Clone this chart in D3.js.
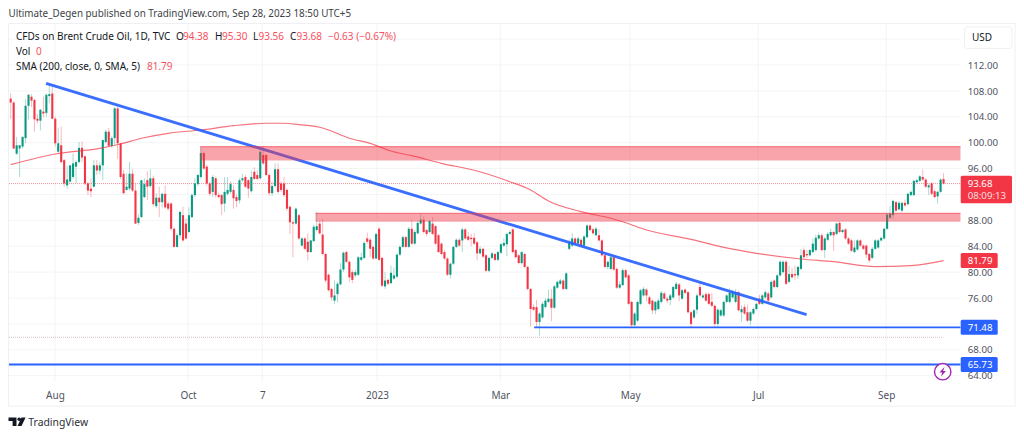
<!DOCTYPE html>
<html>
<head>
<meta charset="utf-8">
<script src="https://cdn.jsdelivr.net/npm/d3@7"></script>
<style>
html, body { margin: 0; padding: 0; background: #fff; overflow: hidden; }
text { font-family: "Noto Sans", sans-serif; }
.axis path, .axis line { display: none; }
</style>
</head>
<body>
<svg id="chart" width="1024" height="437"></svg>
<script>
// candles, oldest first
var opens = [106.8,106.2,98.3,99.1,99.4,100.7,105.7,107.1,106.6,103.7,103.4,104.8,104.6,107.2,107.6,103.7,98.6,99.6,97.3,93.4,
94,94.7,96.3,97,99.2,97.9,93.7,92.9,93.2,96.5,95.7,96.5,100.1,101.7,99.5,100.7,105.3,99.9,95.2,92.7,
92.9,95.2,92.6,87.6,88.5,91.6,94.2,93.3,94.5,90.2,91.5,90.8,92.1,90.6,90.6,86.7,83.9,85.7,88.8,87.5,
86.2,88.5,91.9,93.6,94.7,98.4,96.3,93.7,92.4,94.5,91.9,91.9,90.6,92.1,92.4,92.7,91.6,91.1,94.2,94.7,
94.2,92.5,95.5,95,94.5,98.1,98.1,95,92.2,93.3,95.9,93.7,93.7,92.7,90.1,87.7,87.5,88.8,84.1,85.2,
84.7,83.1,84.8,86.5,87.5,85.8,82.8,79.6,77.4,75.6,76.6,78.1,80.4,83.1,81.6,80,79.5,79.6,81.9,82.2,
85.2,85,83.9,82.1,86.7,82.2,77.8,78.8,78.3,79,79.3,82.7,83.9,85.4,83.9,86.7,84.4,86,87.5,88.1,
86.5,86.2,87.5,87.1,85.7,84.4,83.1,82.1,79.6,81.3,83.9,85,84.9,86.6,85.5,85.3,85.3,84.6,82.9,83.6,
82.6,80.2,82.2,82.8,81.9,83,84.1,84.3,85.9,86.6,83.4,82.6,81.4,82.8,80.8,77.4,74.6,74.6,72.3,73,
74.6,75.4,75.9,74.5,77.6,78.2,78.7,77.4,83.6,84.1,85.2,84.4,85,84.1,85.4,87.2,86.6,85.7,85.7,84.9,
82.6,80.8,80.5,82.3,80.5,77.6,78,80.3,79.5,75.4,71.8,72.5,75.1,76.4,77.3,76.1,75.6,74.1,74.3,75.4,
76.7,75.9,75.7,76.1,77.4,78.1,75.9,77.3,76.9,73.8,73,74.2,77.7,76.1,76.6,76.6,75.4,74.8,72,73.3,
73.3,75.4,75.4,76.1,75.4,76.9,73.8,74.6,73.8,72.5,73.6,74.3,75.9,75.1,76.1,76.7,76.1,78.7,77.7,79.5,
80,81.6,78.5,79.7,79.7,79.5,80.5,83.4,82.8,82.6,83.1,83.4,85.2,85.7,83.4,85,85.7,86.2,85.9,87.6,
86.2,86.6,85.2,84.9,83.1,83.5,84.9,84.1,84.1,82.8,82.2,83.6,83.8,84.9,85.2,86.7,88.4,88.8,90.8,89.7,
89.5,90.7,90.5,91.9,91.9,93.9,94.1,94.7,94.3,93.1,93.7,92.5,91.7,92.4,94.38];
var highs = [107.6,106.4,100.9,99.6,100.9,106.7,107.5,107.5,106.8,104.4,105.1,107.1,107.6,108.9,108.9,104,102.3,102.5,97.5,96.4,
96.5,98.3,97.3,100.1,100.2,97.9,94,94.5,97.3,97.3,97,100.4,102,102.3,101,105.5,105.5,100,95.8,95.2,
97,95.9,93.7,88.9,94.2,94.5,95.6,95.9,94.9,92.2,93.2,92.3,93.4,90.9,90.8,86.9,86,89.5,90.1,88.3,
90,92.2,94.5,95.2,99.3,98.6,96.6,94,95,94.8,92.3,92.1,94.7,94.7,94,93.4,92,94.5,95.2,95,
94.4,95.7,96.2,95.7,99,99.5,98.2,95.3,94,96.8,96.8,94,94.7,92.9,90.3,88,90,89,85.4,85.4,
86,85,87.3,89.3,88,88.3,83,79.8,77.6,78.7,78.5,81.4,83.2,83.3,81.8,80.3,80.4,82.5,83,84.8,
86.1,85.3,84.2,86.1,87,82.4,80,79,81,80.7,82.9,84.2,85.6,85.6,87,88,86.5,87.9,89,88.6,
86.7,88.1,88.5,87.3,85.9,84.6,83.4,82.3,81.5,84.1,85.2,85.2,86.9,86.8,86.2,85.9,86,84.8,84,83.8,
82.8,82.4,83.1,83,83.3,84.5,85.2,86.1,86.5,86.8,83.6,82.8,83.3,83,81,77.6,75,75.7,73.8,75.4,
76,77.3,77.4,78,78.7,79,78.9,80,85,86,85.4,85.5,85.2,85.7,87.4,87.4,86.8,87,86.6,85.1,
82.8,81.8,82.7,82.6,80.7,78.6,80.6,80.5,79.7,75.6,73.8,75.6,77.4,77.7,77.5,76.4,75.8,75.6,75.9,77.1,
77,76.2,76.6,77.9,78.5,78.3,77.4,77.5,77.1,74,74.3,76.7,78.4,76.7,76.9,76.9,76.8,75,74.4,74.3,
75.6,76.6,77.5,77.3,77.4,77.1,74.9,75,75,74,74.5,75.3,76.5,76.6,77.2,77,78.7,78.9,79.7,81.8,
81.8,81.8,81,80.7,81,81,83.6,83.8,83.4,83.6,85.2,85.8,86.1,86,85.4,86.2,86.7,86.4,87.7,87.9,
86.7,86.8,85.4,85.1,84.9,85.1,85.1,84.3,84.3,83,83.9,85.1,85.1,85.5,86.9,89.1,90.2,91.2,91,91,
90.9,91.2,92.3,92.6,94.3,94.4,95,95.85,94.5,93.7,93.9,92.8,92.6,94.5,95.3];
var lows = [103.7,99,98.1,94.7,99.1,99.9,103.6,105.5,101.7,103,101.9,103.9,104,106.1,103.6,99.4,98.5,96.8,93.2,92.9,
93.7,94.4,93.7,96.8,97,93.4,91.9,91.6,93.1,95,95.1,94.2,99.9,99.4,99.2,99.6,97.5,94.4,92,92.6,
92.6,92.4,87.4,87.3,88.4,91.4,91.1,93,90.2,89.9,88.5,90,89.8,89.5,86.4,83.8,83.8,85.2,84.7,85,
86,88.3,91.6,93.3,94.4,95.8,93.3,91.8,91.6,91.5,91.4,88.8,89.3,91.8,92.1,89.8,90,90.6,93.9,93,
91.5,92.3,94.2,94.2,94.3,96.6,94.8,91.8,91.8,93.1,92.1,92.4,91.6,89.5,85.9,82.3,87.3,85,84,83.4,
81.8,83,84.6,86.3,85.8,82.6,78.4,77,75.6,75.1,75.3,78,80,81.4,78.5,78.3,79.2,79.4,81.7,82,
84.4,82.3,81.9,82,81.7,77.7,77.4,78,78.1,78.8,79,82.5,83.7,83.7,83.7,84.2,84.2,85.8,87.3,86,
85.5,86,85.7,84.2,83,82.6,81.9,79.4,79,81.1,83.7,83.9,83.1,85,84.8,84,84.2,81.8,82.7,82.2,
80,80,82,81.7,81.7,82.8,83.9,82.5,85.7,82.9,82.1,81.2,81.2,80.6,77.2,71.6,74,71.4,70.2,72.8,
74.4,75.2,72.4,74.3,77.4,78,77.2,77.2,83.4,83.9,84.2,84.2,83.9,83.9,85.2,86.3,85.8,85.5,84.7,82.4,
80.6,80.4,80.3,80.2,77.4,77.4,77.8,79,74.9,71.5,71.5,72.3,74.9,76.2,75.5,74.9,73.5,73.5,74.1,75.2,
75.7,75.2,74.9,75.9,77.2,75.5,75.7,76.6,73.6,71.5,72.8,73.5,76.2,75.9,75.4,74.9,74.6,71.5,71.5,73.1,
73.1,75.2,75.2,75.9,75.2,73.9,72.3,73.4,72.3,71.8,73.4,74.1,74.9,74.9,75.9,75.4,75.9,77.5,77.5,79.3,
79.8,78,78.3,79,78.8,78.9,80.3,82.1,82.2,82.4,82.9,83.2,85,83.2,82.2,84.8,85.5,83.3,85.7,86,
86,85,84.2,83.1,82.9,83.3,83.9,83.4,82.2,81.5,82,83.4,83.6,84.7,85,86.5,88.2,88.2,89.3,89.5,
89.3,90.1,90.3,91.7,91.7,93.7,93.9,94.1,93,91.9,91.9,91.4,90.6,92.2,93.56];
var closes = [106.2,99.1,99.6,99.6,100.9,105.7,107.4,106.5,103.6,103.4,105.1,104.5,107.4,107.5,103.7,99.9,99.9,97,93.7,94.3,
96.5,96.8,97,99.2,97.7,93.7,92.6,92.5,96.5,95.7,96.5,100.4,101.7,99.5,100.7,105.3,99.9,94.7,92.2,93.2,
95.2,92.6,87.5,88.4,94.2,93.6,93.2,94.5,90.5,91.5,90.8,92.1,90,89.8,86.7,83.9,85.7,89.3,84.9,85.2,
88.8,91.9,93.7,95,98.4,96,93.7,92.1,94.7,91.9,91.6,90.5,92.4,92.7,93.6,91.4,91,94.2,94.5,93.2,
92.9,94.7,94.4,94.4,98.6,96.8,95,92.2,93.3,95.9,92.4,92.7,91.9,89.8,87.7,87.5,89.8,85.2,85.2,83.6,
83.1,84.9,87,87.1,86,82.8,78.7,77.2,76.1,76.4,78.2,80.4,83,81.6,79.2,78.8,80,82.3,82.3,84.5,
84.7,83.6,82.1,85.9,81.9,77.9,78.7,78.2,79.9,79.5,82.7,83.9,85.4,83.9,86.7,84.4,86.2,87.6,88.1,86.2,
85.9,87.9,85.9,84.4,83.1,82.8,82.1,79.6,81.3,83.9,85,84.1,86.6,85.2,85,85.1,84.4,82.9,83.6,82.4,
80.2,82.2,82.9,81.9,83.1,84.3,84.5,85.9,86.2,83.1,82.3,81.4,83.1,80.8,77.4,74.3,74.2,72.3,73.6,75.1,
75.6,75.9,74.5,77.8,78.5,78.7,77.4,79.8,84.6,85.2,84.4,85.2,84.1,85.5,87.2,86.5,86,86.7,84.9,82.6,
80.8,81.6,82.3,80.4,77.6,78.1,80.3,79.2,75.1,71.8,73.6,75.4,77.2,77.4,76.4,75.1,74.1,75.4,75.6,76.8,
75.9,75.6,76.4,77.7,78.2,76.4,77.2,76.8,73.8,72,74.1,76.4,76.4,76.4,75.6,75.1,74.8,72,74.2,74.1,
75.4,76.4,76.8,76.9,76.9,74.1,74.3,73.6,72.5,73.8,74.3,75.1,75.1,76.4,76.9,75.6,78.5,77.7,79.5,81.6,
81.6,78.2,79.7,79.2,79.5,80.8,82.6,82.3,82.6,83.4,84.4,85.3,85.7,83.4,85.2,85.9,86.2,85.7,87.5,86.2,
86.5,85.2,84.4,83.3,83.8,84.9,84.1,83.6,82.7,81.8,83.6,84.9,84.9,85.3,86.7,88.9,89,91,89.5,90.7,
90.7,90.3,92.1,92.4,94.1,94.2,94.8,94.3,93.2,93.4,92.1,91.6,92.4,94.3,93.68];

// 200 day average, read at a handful of bars
var smaBars = [0,15,30,37,44,53,64,75,86,92,97,104,107,114,121,128,135,145,157,168,175,181,192,202,206,214,229,239,251,266,277,291,303,314];
var smaValues = [96.6,98.25,99.13,99.8,100.68,101.45,101.96,102.62,103,103,102.78,102.38,101.96,100.68,99.9,98.71,97.99,96.81,95.62,93.97,92.69,90.99,89.34,88.32,87.79,86.51,85.07,83.93,82.91,82.03,81.61,80.84,81,81.79];

// drawings on the chart
var trendBars = [11.9, 267.9];
var trendPrices = [109.17, 73.43];
var zoneStarts = [63.8, 102.6];
var zoneTops = [99.38, 89.09];
var zoneBottoms = [97.25, 87.79];
var levelStarts = [176.2, -1];
var levelPrices = [71.48, 65.73];
var lastPrice = 93.68;
var volLine = 69.93;

// axes
var priceTicks = [112,108,104,100,96,88,84,80,76,68,64];
var priceGrid = [116,112,108,104,100,96,92,88,84,80,76,72,68,64];
var timeBars = [14.9,59.7,84.7,123.3,164.8,208.5,251.6,294.7];
var timeLabels = ["Aug","Oct","7","2023","Mar","May","Jul","Sep"];

var UP = "#089981", DOWN = "#f23645", BLUE = "#2962ff", INK = "#131722", GREY = "#50535e";

var paneLeft = 9, paneRight = 960.7, paneTop = 24, paneBottom = 381.7;

var x = d3.scaleLinear().domain([0, 319.77]).range([10.7, paneRight]);
var y = d3.scaleLinear().domain([64, 112]).range([375.7, 65]);

var svg = d3.select("#chart");

// frame
svg.append("rect").attr("x", 8.5).attr("y", 23.5).attr("width", 1006.5).attr("height", 382.5)
    .attr("fill", "#fff").attr("stroke", "#eef0f3");

var defs = svg.append("defs");
defs.append("clipPath").attr("id", "pane").append("rect")
    .attr("x", paneLeft).attr("y", paneTop).attr("width", paneRight - paneLeft).attr("height", paneBottom - paneTop);

// grid
var grid = svg.append("g").attr("stroke", "#f3f4f6").attr("stroke-width", 1);
grid.selectAll(".h").data(priceGrid).enter().append("line")
    .attr("x1", paneLeft).attr("x2", paneRight)
    .attr("y1", (d) => y(d)).attr("y2", (d) => y(d));
grid.selectAll(".v").data(timeBars).enter().append("line")
    .attr("y1", paneTop).attr("y2", paneBottom)
    .attr("x1", (d) => x(d)).attr("x2", (d) => x(d));

var pane = svg.append("g").attr("clip-path", "url(#pane)");

// pale line of the volume study
pane.append("line").attr("x1", paneLeft).attr("x2", x(314))
    .attr("y1", y(volLine)).attr("y2", y(volLine))
    .attr("stroke", "#f7b3b9").attr("stroke-width", 1).attr("stroke-dasharray", "1 1");
pane.append("line").attr("x1", paneLeft).attr("x2", x(314))
    .attr("y1", y(volLine)).attr("y2", y(volLine))
    .attr("stroke", "#b5dfd8").attr("stroke-width", 1).attr("stroke-dasharray", "1 3");

// last price
pane.append("line").attr("x1", paneLeft).attr("x2", paneRight)
    .attr("y1", y(lastPrice)).attr("y2", y(lastPrice))
    .attr("stroke", DOWN).attr("stroke-opacity", 0.55).attr("stroke-dasharray", "1 1");

// candles
var bars = d3.range(closes.length);
var color = (i) => closes[i] >= opens[i] ? UP : DOWN;
pane.append("g").selectAll("line").data(bars).enter().append("line")
    .attr("x1", (i) => x(i)).attr("x2", (i) => x(i))
    .attr("y1", (i) => y(highs[i])).attr("y2", (i) => y(lows[i]))
    .attr("stroke", color).attr("stroke-width", 1).attr("stroke-opacity", 0.35);
pane.append("g").selectAll("rect").data(bars).enter().append("rect")
    .attr("x", (i) => x(i) - 1.05)
    .attr("width", 2.1)
    .attr("y", (i) => y(Math.max(opens[i], closes[i])))
    .attr("height", (i) => Math.max(1, Math.abs(y(opens[i]) - y(closes[i]))))
    .attr("fill", color);

// average
var smaLine = d3.line()
    .x((i) => x(smaBars[i]))
    .y((i) => y(smaValues[i]))
    .curve(d3.curveMonotoneX);
pane.append("path").attr("d", smaLine(d3.range(smaBars.length)))
    .attr("fill", "none").attr("stroke", DOWN).attr("stroke-opacity", 0.7).attr("stroke-width", 1.2);

// trend line
pane.append("line")
    .attr("x1", x(trendBars[0])).attr("y1", y(trendPrices[0]))
    .attr("x2", x(trendBars[1])).attr("y2", y(trendPrices[1]))
    .attr("stroke", BLUE).attr("stroke-opacity", 0.92).attr("stroke-width", 2.8);

// zones
pane.selectAll(".zone").data(d3.range(zoneTops.length)).enter().append("rect")
    .attr("class", "zone")
    .attr("x", (i) => x(zoneStarts[i]))
    .attr("y", (i) => y(zoneTops[i]))
    .attr("width", (i) => paneRight - x(zoneStarts[i]))
    .attr("height", (i) => y(zoneBottoms[i]) - y(zoneTops[i]))
    .attr("fill", DOWN).attr("fill-opacity", 0.45);
pane.selectAll(".zoneTop").data(d3.range(zoneTops.length)).enter().append("line")
    .attr("x1", (i) => x(zoneStarts[i])).attr("x2", paneRight)
    .attr("y1", (i) => y(zoneTops[i])).attr("y2", (i) => y(zoneTops[i]))
    .attr("stroke", DOWN).attr("stroke-opacity", 0.7).attr("stroke-width", 1);

// horizontal levels
pane.selectAll(".level").data(d3.range(levelPrices.length)).enter().append("line")
    .attr("class", "level")
    .attr("x1", (i) => x(levelStarts[i])).attr("x2", paneRight)
    .attr("y1", (i) => y(levelPrices[i])).attr("y2", (i) => y(levelPrices[i]))
    .attr("stroke", BLUE).attr("stroke-width", 1.8);

// axes
var priceAxis = d3.axisRight(y).tickValues(priceTicks).tickSize(0).tickPadding(7)
    .tickFormat((d) => d.toFixed(2));
var gPrice = svg.append("g").attr("class", "axis")
    .attr("transform", "translate(" + paneRight + ",0)").call(priceAxis);
gPrice.selectAll("text").attr("fill", GREY).attr("font-size", 9.7);

var timeAxis = d3.axisBottom(x).tickValues(timeBars).tickSize(0).tickPadding(9.8)
    .tickFormat((d, i) => timeLabels[i]);
var gTime = svg.append("g").attr("class", "axis")
    .attr("transform", "translate(0," + paneBottom + ")").call(timeAxis);
gTime.selectAll("text").attr("fill", GREY).attr("font-size", 10);

// price scale tags
function tag(price, tagRight, fill, txt) {
    svg.append("rect").attr("x", paneRight).attr("y", y(price) - 7.5)
        .attr("width", tagRight - paneRight).attr("height", 15).attr("rx", 1.5).attr("fill", fill);
    svg.append("text").attr("x", 967.7).attr("y", y(price)).attr("dy", "0.36em")
        .attr("fill", "#fff").attr("font-size", 9.7).text(txt);
}
tag(81.79, 997.7, DOWN, "81.79");
tag(71.48, 997.7, BLUE, "71.48");
tag(65.73, 997.7, BLUE, "65.73");

svg.append("rect").attr("x", paneRight).attr("y", 175.7).attr("width", 51.3).attr("height", 27.6)
    .attr("rx", 1.5).attr("fill", DOWN);
svg.append("text").attr("x", 967.7).attr("y", y(lastPrice)).attr("dy", "0.36em")
    .attr("fill", "#fff").attr("font-size", 9.7).text("93.68");
svg.append("text").attr("x", 967.7).attr("y", y(lastPrice) + 12.2).attr("dy", "0.36em")
    .attr("fill", "#fff").attr("fill-opacity", 0.85).attr("font-size", 9.7).text("08:09:13");

// currency button
svg.append("rect").attr("x", 964.5).attr("y", 27).attr("width", 47.5).attr("height", 21.5)
    .attr("rx", 3).attr("fill", "#fff").attr("stroke", "#eef0f3");
svg.append("text").attr("x", 972).attr("y", 37.7).attr("dy", "0.36em")
    .attr("fill", INK).attr("font-size", 10).text("USD");

// flash badge
var badge = svg.append("g").attr("transform", "translate(942.7,371.7)");
badge.append("circle").attr("r", 8.2).attr("fill", "#fff").attr("stroke", "#9c27b0").attr("stroke-width", 1.4);
badge.append("path").attr("d", "M1.8,-5 L-3.2,0.8 L-0.4,0.8 L-1.8,5 L3.2,-0.8 L0.4,-0.8 Z").attr("fill", "#9c27b0");

// header and legend
function label(parent, xPos, yPos, fill, size, txt) {
    return parent.append("text").attr("x", xPos).attr("y", yPos).attr("dy", "0.36em")
        .attr("fill", fill).attr("font-size", size).text(txt);
}
label(svg, 8.5, 13, "#3d3f46", 9.85, "Ultimate_Degen published on TradingView.com, Sep 28, 2023 18:50 UTC+5");

var RED_TXT = "#f7525f";
var LEGEND = 10;
label(svg, 16, 36.7, INK, LEGEND, "CFDs on Brent Crude Oil, 1D, TVC");
label(svg, 176, 36.7, INK, LEGEND, "O");
label(svg, 183, 36.7, RED_TXT, LEGEND, "94.38");
label(svg, 215, 36.7, INK, LEGEND, "H");
label(svg, 222, 36.7, RED_TXT, LEGEND, "95.30");
label(svg, 253, 36.7, INK, LEGEND, "L");
label(svg, 258.5, 36.7, RED_TXT, LEGEND, "93.56");
label(svg, 290, 36.7, INK, LEGEND, "C");
label(svg, 296.5, 36.7, RED_TXT, LEGEND, "93.68");
label(svg, 328, 36.7, RED_TXT, LEGEND, "\u22120.63 (\u22120.67%)");
label(svg, 16, 51, INK, LEGEND, "Vol");
label(svg, 36, 51, RED_TXT, LEGEND, "0");
label(svg, 16, 66, INK, LEGEND, "SMA (200, close, 0, SMA, 5)");
label(svg, 147, 66, RED_TXT, LEGEND, "81.79");

// logo
var logo = svg.append("g").attr("fill", INK);
logo.append("path").attr("d", "M8.5,417.5 H16.5 V426 H12.6 V421 H8.5 Z");
logo.append("circle").attr("cx", 19.2).attr("cy", 419.3).attr("r", 1.8);
logo.append("path").attr("d", "M21.5,417.5 H25.6 L21.5,426 H17.5 Z");
label(svg, 28.3, 422, "#2a2e39", 10.4, "TradingView");
</script>
</body>
</html>
